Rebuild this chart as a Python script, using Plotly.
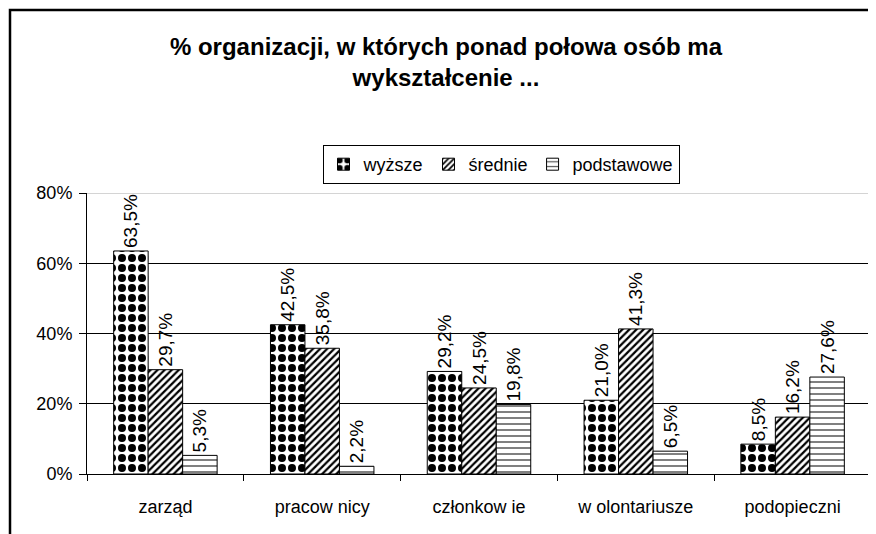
import plotly.graph_objects as go

categories = ["zarząd", "pracow nicy", "członkow ie", "w olontariusze", "podopieczni"]
series_names = ["wyższe", "średnie", "podstawowe"]
wyzsze = [63.5, 42.5, 29.2, 21.0, 8.5]
srednie = [29.7, 35.8, 24.5, 41.3, 16.2]
podstawowe = [5.3, 2.2, 19.8, 6.5, 27.6]
y_ticks = [0, 20, 40, 60, 80]
y_tick_labels = ["0%", "20%", "40%", "60%", "80%"]
title_text = "% organizacji, w których ponad połowa osób ma<br>wykształcenie ..."

FONT = "Liberation Sans, Arial, sans-serif"
W, H = 876, 534
OFF = 8  # page body margin offset
L, T = 87 - OFF, 193 - OFF
R = W - (871 - OFF)
B = H - (474 - OFF)
pw, ph = W - L - R, H - T - B


def lab(v):
    return [f"{x:.1f}".replace(".", ",") + "%" for x in v]


patterns = [
    dict(shape=".", fgcolor="black", bgcolor="white", size=10, solidity=0.5, fillmode="replace"),
    dict(shape="/", fgcolor="black", bgcolor="white", size=5, solidity=0.45, fillmode="replace"),
    dict(shape="-", fgcolor="#555555", bgcolor="white", size=6, solidity=0.25, fillmode="replace"),
]

fig = go.Figure()
for name, vals, pat in zip(series_names, [wyzsze, srednie, podstawowe], patterns):
    fig.add_trace(go.Bar(
        name=name, x=categories, y=vals,
        text=lab(vals), textposition="outside", textangle=-90,
        textfont=dict(family=FONT, size=19, color="black"),
        constraintext="none",
        cliponaxis=False,
        marker=dict(color="white", pattern=pat, line=dict(color="black", width=1)),
    ))

# convert reference-page pixel positions to paper coords
px2x = lambda px: (px - OFF - L) / pw
px2y = lambda py: (H - B - (py - OFF)) / ph

fig.update_layout(
    width=W, height=H,
    margin=dict(l=L, r=R, t=T, b=B),
    paper_bgcolor="white", plot_bgcolor="white",
    barmode="group", bargap=0.34, bargroupgap=0,
    font=dict(family=FONT, color="black"),
    title=dict(text=title_text, x=438 / W, xanchor="center", y=1 - 47 / H, yanchor="top",
               font=dict(family=FONT, size=24, color="black", weight="bold")),
    legend=dict(orientation="h", x=px2x(501), xanchor="center", y=px2y(145), yanchor="top",
                bordercolor="black", borderwidth=1, bgcolor="white",
                font=dict(family=FONT, size=18, color="black"),
                itemwidth=30, tracegroupgap=0),
    showlegend=True,
    xaxis=dict(showline=True, linecolor="black", linewidth=1, ticks="outside", ticklen=6,
               tickcolor="black", tickson="boundaries", showgrid=False,
               tickfont=dict(family=FONT, size=18, color="black"), ticklabelstandoff=16),
    yaxis=dict(range=[0, 80], tickvals=y_ticks, ticktext=y_tick_labels, showline=True,
               linecolor="black", linewidth=1, ticks="outside", ticklen=7, tickcolor="black",
               showgrid=True, gridcolor="black", gridwidth=1, zeroline=False,
               tickfont=dict(family=FONT, size=18, color="black"), ticklabelstandoff=3),
    shapes=[
        dict(type="line", xref="paper", yref="y", x0=0, x1=1, y0=80, y1=80,
             line=dict(color="#aaaaaa", width=1), layer="above"),
        dict(type="rect", xref="paper", yref="paper", x0=px2x(10), x1=px2x(900),
             y0=px2y(560), y1=px2y(10), line=dict(color="black", width=2.5), layer="below"),
    ],
)

fig.write_html("out.html")
